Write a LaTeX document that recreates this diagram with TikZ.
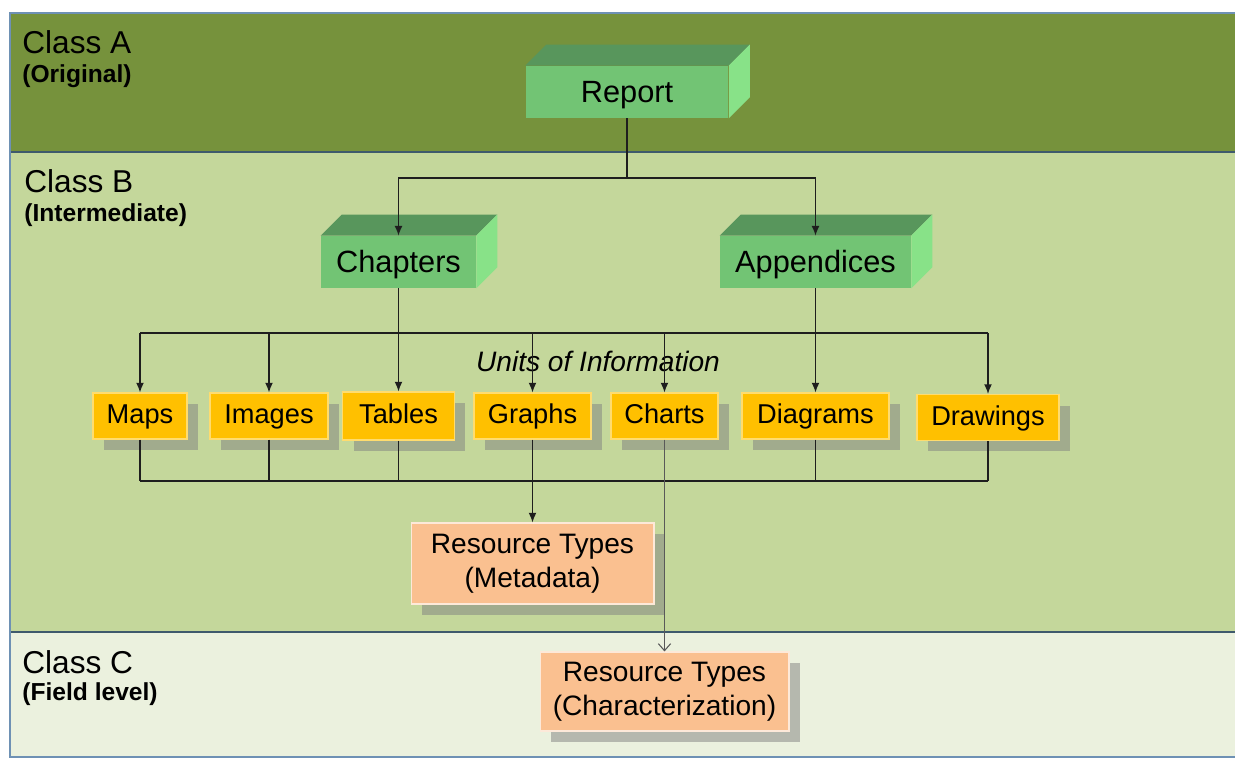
\documentclass[tikz,border=0pt]{standalone}
\usepackage{fontspec}
\setmainfont{Liberation Sans}
\usetikzlibrary{arrows.meta, shadows, calc}

\definecolor{classAgreen}{RGB}{118,146,60}
\definecolor{classBgreen}{RGB}{196,215,155}
\definecolor{classCgreen}{RGB}{235,241,222}
\definecolor{sepblue}{RGB}{62,90,108}
\definecolor{frameblue}{RGB}{110,145,180}
\definecolor{frontgreen}{RGB}{114,196,116}
\definecolor{topgreen}{RGB}{88,150,92}
\definecolor{sidegreen}{RGB}{136,226,136}
\definecolor{unityellow}{RGB}{255,192,0}
\definecolor{unitedge}{RGB}{255,220,110}
\definecolor{peach}{RGB}{250,192,144}
\definecolor{peachedge}{RGB}{253,233,217}
\definecolor{linegray}{RGB}{30,30,30}

\tikzstyle{arrow} = [line width=0.8pt, draw=linegray, ->, >={Latex[length=5.5pt,width=4.5pt]}]
\tikzstyle{link} = [line width=0.8pt, draw=linegray]
\tikzstyle{openarrow} = [line width=0.6pt, draw=black!65, ->, >={Straight Barb[length=4pt,width=7pt]}]
\tikzstyle{classtitle} = [anchor=base west, inner sep=0pt, font=\fontsize{18}{20}\selectfont]
\tikzstyle{classsub} = [anchor=base west, inner sep=0pt, font=\fontsize{14}{16}\selectfont\bfseries]
\tikzstyle{block} = [fill=frontgreen, inner sep=0pt, minimum height=1.04cm, text height=14pt, text depth=1.5pt,
    font=\fontsize{17.5}{20}\selectfont]
\tikzstyle{unit} = [fill=unityellow, draw=unitedge, line width=0.6pt, inner sep=0pt, minimum height=0.92cm,
    text height=12pt, text depth=3pt, font=\fontsize{15.5}{18}\selectfont,
    drop shadow={shadow xshift=0.22cm, shadow yshift=-0.22cm, fill=gray, opacity=0.5}]
\tikzstyle{restype} = [fill=peach, draw=peachedge, line width=0.6pt, inner sep=0pt, align=center,
    font=\fontsize{16}{19.5}\selectfont,
    drop shadow={shadow xshift=0.22cm, shadow yshift=-0.22cm, fill=gray, opacity=0.5}]

% top and right faces of a green block
\newcommand{\blocksides}[1]{
    \fill[topgreen] (#1.north west) -- ++(21,-21) -- ([shift={(21,-21)}]#1.north east) -- (#1.north east) -- cycle;
    \fill[sidegreen] (#1.north east) -- ++(21,-21) -- ([shift={(21,-21)}]#1.south east) -- (#1.south east) -- cycle;
}

\begin{document}
\begin{tikzpicture}[x=0.02cm, y=-0.02cm]
        \useasboundingbox (0,0) rectangle (1235,760);
        \fill[white] (0,0) rectangle (1235,760);

        % class bands
        \fill[classAgreen] (10,13) rectangle (1235,152);
        \fill[classBgreen] (10,152) rectangle (1235,632);
        \fill[classCgreen] (10,632) rectangle (1235,757);
        \draw[sepblue, line width=1.6pt] (10,152) -- (1235,152);
        \draw[sepblue, line width=1.6pt] (10,632) -- (1235,632);
        \draw[frameblue, line width=1.2pt] (1235,13) -- (10,13) -- (10,757) -- (1235,757);

        \node at (22,54) [classtitle] (classA) {Class A};
        \node at (22,83) [classsub] (classAsub) {(Original)};
        \node at (24,193) [classtitle] (classB) {Class B};
        \node at (24,222) [classsub] (classBsub) {(Intermediate)};
        \node at (22,673) [classtitle] (classC) {Class C};
        \node at (22,700) [classsub] (classCsub) {(Field level)};

        % green blocks
        \node at (627,92) [block, minimum width=4.06cm] (Report) {Report};
        \blocksides{Report}
        \node at (398.5,262) [block, minimum width=3.1cm] (Chapters) {Chapters};
        \blocksides{Chapters}
        \node at (815.5,262) [block, minimum width=3.82cm] (Appendices) {Appendices};
        \blocksides{Appendices}

        \coordinate (busA) at (0,178);
        \coordinate (busB) at (0,333);
        \coordinate (busC) at (0,481);

        % units of information
        \node at (140,416) [unit, minimum width=1.88cm] (Maps) {Maps};
        \node at (269,416) [unit, minimum width=2.36cm] (Images) {Images};
        \node at (398.5,416) [unit, minimum width=2.24cm, minimum height=0.96cm] (Tables) {Tables};
        \node at (532.5,416) [unit, minimum width=2.34cm] (Graphs) {Graphs};
        \node at (664.5,416) [unit, minimum width=2.14cm] (Charts) {Charts};
        \node at (815.5,416) [unit, minimum width=2.94cm] (Diagrams) {Diagrams};
        \node at (988,417.5) [unit, minimum width=2.84cm] (Drawings) {Drawings};

        \node at (598,372) [anchor=base, inner sep=0pt, font=\fontsize{16}{19}\selectfont\itshape] (units) {Units of Information};

        \node at (532.5,563.5) [restype, minimum width=4.86cm, minimum height=1.62cm] (Metadata) {Resource Types\\(Metadata)};
        \node at (664.5,691.5) [restype, minimum width=4.98cm, minimum height=1.58cm] (Characterization) {Resource Types\\(Characterization)};

        % connectors
        \draw[arrow] (Report.south) |- (Chapters.north |- busA) -- (Chapters.north);
        \draw[arrow] (Report.south) |- (Appendices.north |- busA) -- (Appendices.north);

        \draw[link] (Chapters.south) -- (Chapters.south |- busB);
        \draw[link] (Appendices.south) -- (Appendices.south |- busB);
        \draw[link] (Maps.north |- busB) -- (Drawings.north |- busB);
        \foreach \u in {Maps, Images, Tables, Graphs, Charts, Diagrams, Drawings}
            \draw[arrow] (\u.north |- busB) -- (\u.north);

        \foreach \u in {Maps, Images, Tables, Diagrams, Drawings}
            \draw[link] (\u.south) -- (\u.south |- busC);
        \draw[link] (Maps.south |- busC) -- (Drawings.south |- busC);

        \draw[arrow] (Graphs.south) -- (Metadata.north);
        \draw[openarrow] (Charts.south) -- (Characterization.north);

    \end{tikzpicture}
\end{document}
